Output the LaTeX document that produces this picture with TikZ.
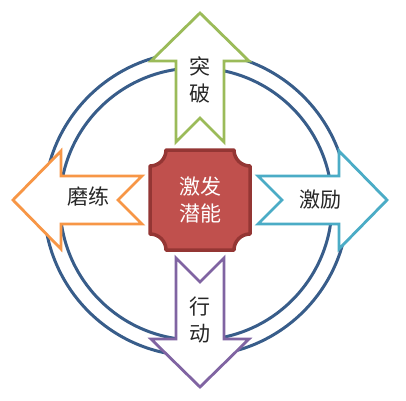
\documentclass[tikz,border=0pt]{standalone}
\usepackage{fontspec}
\usepackage{xcolor}
\usepackage{tikz}
\usetikzlibrary{calc}
\newfontfamily\cjk{Noto Sans CJK SC}
\definecolor{ring}{HTML}{385D8A}
\definecolor{green}{HTML}{9BBB59}
\definecolor{blue}{HTML}{4BACC6}
\definecolor{orange}{HTML}{F79646}
\definecolor{purple}{HTML}{8064A2}
\definecolor{core}{HTML}{C0504D}
\definecolor{coreline}{HTML}{943634}
\definecolor{text}{HTML}{262626}
\tikzset{
  ringline/.style={draw=ring, line width=3pt},
  arr/.style={fill=white, line width=2.8pt, line join=miter},
  plaque/.style={fill=core, draw=coreline, line width=3.5pt, line join=round},
  lab/.style={font=\cjk\fontsize{21}{27}\selectfont, text=text, align=center, inner sep=0pt},
  labw/.style={lab, text=white},
}

\begin{document}
\begin{tikzpicture}[x=1pt,y=1pt]
  \useasboundingbox (-200,-200) rectangle (206,200);

  % two rings behind the arrows
  \draw[ringline] (-4,-4) circle (152);
  \draw[ringline] (-4,-4) circle (136);

  \foreach \ang/\col in {90/green,0/blue,180/orange,270/purple}{
    \draw[arr, draw=\col, rotate=\ang]
      (58,24) -- (139,24) -- (139,49) -- (187,0) -- (139,-49)
      -- (139,-24) -- (58,-24) -- (82,0) -- cycle;
  }

  % centre plaque, concave corners
  \draw[plaque] (-50,34) -- (-50,-34) arc (90:0:16) -- (34,-50)
    arc (180:90:16) -- (50,34) arc (270:180:16) -- (-34,50)
    arc (0:-90:16) -- cycle;

  \node[labw] (core) at (0,0) {激发\\潜能};
  \node[lab] (breakthrough) at (0,120) {突\\破};
  \node[lab] (motivate) at (120,0) {激励};
  \node[lab] (temper) at (-111,4) {磨练};
  \node[lab] (action) at (0,-120) {行\\动};
\end{tikzpicture}
\end{document}
